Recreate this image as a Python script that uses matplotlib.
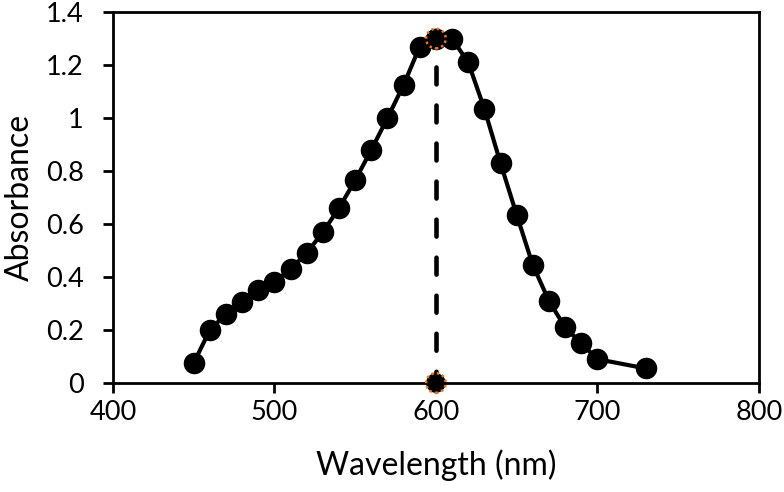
import matplotlib
matplotlib.use("Agg")
import matplotlib.pyplot as plt

wavelength = [450, 460, 470, 480, 490, 500, 510, 520, 530, 540, 550, 560, 570, 580, 590,
              600, 610, 620, 630, 640, 650, 660, 670, 680, 690, 700, 730]
absorbance = [0.075, 0.20, 0.26, 0.305, 0.35, 0.38, 0.43, 0.49, 0.57, 0.66, 0.765, 0.88, 1.0,
              1.125, 1.27, 1.30, 1.30, 1.21, 1.035, 0.83, 0.635, 0.445, 0.31, 0.21, 0.15, 0.09, 0.055]
peak_x = [600, 600]
peak_y = [1.30, 0]

x_ticks = [400, 500, 600, 700, 800]
y_ticks = [0, 0.2, 0.4, 0.6, 0.8, 1.0, 1.2, 1.4]
y_tick_labels = ["0", "0.2", "0.4", "0.6", "0.8", "1", "1.2", "1.4"]

plt.rcParams['font.family'] = ['Lato', 'DejaVu Sans']

fig = plt.figure(figsize=(7.84, 4.92), dpi=100)
ax = fig.add_axes([0.144, 0.2215, 0.824, 0.754])

ax.plot(wavelength, absorbance, color='black', lw=3, marker='o', ms=14.5,
        markerfacecolor='black', markeredgecolor='black', zorder=3, clip_on=False)
ax.plot(peak_x, peak_y, color='black', lw=3.3, ls=(2.2, (3.7, 4.6)),
        dash_capstyle='round', zorder=4)
ax.scatter(peak_x, peak_y, s=200, c='black', edgecolors='#ee7320', linewidths=1.8,
           linestyles=(0, (1, 1.2)), zorder=5, clip_on=False)

ax.set_xlim(400, 800)
ax.set_ylim(0, 1.4)
ax.set_xticks(x_ticks)
ax.set_yticks(y_ticks)
ax.set_yticklabels(y_tick_labels)
ax.tick_params(axis='both', direction='out', length=7, width=2, labelsize=19.5)
ax.tick_params(axis='y', pad=14)
ax.tick_params(axis='x', pad=5)
for s in ax.spines.values():
    s.set_linewidth(2)
    s.set_color('black')
    s.set_zorder(2)

ax.set_xlabel("Wavelength (nm)", fontsize=23)
ax.set_ylabel("Absorbance", fontsize=23)
ax.xaxis.label.set_va('center')
ax.yaxis.label.set_va('center')
ax.xaxis.set_label_coords(0.5, -0.221)
ax.yaxis.set_label_coords(-0.1435, 0.5)

fig.savefig("out.png", dpi=100)
